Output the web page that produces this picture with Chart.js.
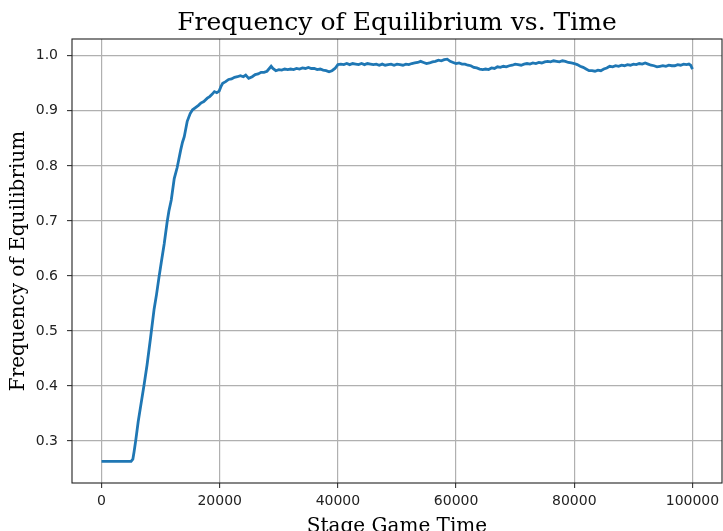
<!DOCTYPE html>
<html>
<head>
<meta charset="utf-8">
<script src="https://cdn.jsdelivr.net/npm/chart.js@4/dist/chart.umd.min.js"></script>
<style>
html,body{margin:0;padding:0;background:#fff;}
#wrap{width:723px;height:531px;}
</style>
</head>
<body>
<div id="wrap"><canvas id="c" width="723" height="531"></canvas></div>
<script>
const times = [0,1000,2000,3000,4000,5000,5300,5500,5800,6200,6600,7200,7700,8300,8900,9300,9700,10100,10600,11100,11400,11800,12300,12800,13400,13700,14000,14500,15000,15400,15900,16400,16800,17300,17900,18300,18700,19100,19500,19900,20200,20500,21000,21500,22000,22500,23000,23500,24000,24400,24900,25500,26000,26500,27000,27500,28000,28700,29000,29500,30000,30500,31000,31500,32000,32500,33000,33500,34000,34500,35000,35500,36000,36500,37000,37500,38000,38500,39000,39500,40000,40500,41000,41500,42000,42500,43000,43500,44000,44500,45000,45500,46000,46500,47000,47500,48000,48500,49000,49500,50000,50500,51000,51500,52000,52500,53000,53500,54000,54500,55000,55500,56000,56500,57000,57500,58000,58500,59000,59500,60000,60500,61000,61500,62000,62500,63000,63500,64000,64500,65000,65500,66000,66500,67000,67500,68000,68500,69000,69500,70000,70500,71000,71500,72000,72500,73000,73500,74000,74500,75000,75500,76000,76500,77000,77500,78000,78500,79000,79500,80000,80500,81000,81500,82000,82500,83000,83500,84000,84500,85000,85500,86000,86500,87000,87500,88000,88500,89000,89500,90000,90500,91000,91500,92000,92500,93000,93500,94000,94500,95000,95500,96000,96500,97000,97500,98000,98500,99000,99400,99700,100000];
const frequency = [0.263,0.263,0.263,0.263,0.263,0.263,0.267,0.280,0.302,0.335,0.362,0.402,0.438,0.488,0.540,0.566,0.596,0.624,0.658,0.698,0.718,0.738,0.777,0.797,0.829,0.843,0.853,0.881,0.895,0.902,0.906,0.910,0.914,0.917,0.923,0.926,0.930,0.935,0.933,0.936,0.944,0.950,0.953,0.957,0.958,0.961,0.962,0.964,0.962,0.965,0.959,0.962,0.966,0.967,0.970,0.970,0.972,0.981,0.977,0.973,0.975,0.974,0.976,0.975,0.976,0.975,0.977,0.976,0.978,0.977,0.979,0.977,0.977,0.975,0.976,0.974,0.973,0.971,0.973,0.977,0.984,0.985,0.984,0.986,0.984,0.986,0.985,0.984,0.986,0.984,0.986,0.985,0.984,0.985,0.983,0.985,0.983,0.984,0.985,0.983,0.985,0.984,0.983,0.985,0.984,0.986,0.987,0.988,0.990,0.988,0.986,0.987,0.989,0.990,0.992,0.991,0.993,0.994,0.990,0.988,0.986,0.987,0.985,0.985,0.983,0.982,0.979,0.978,0.976,0.975,0.976,0.975,0.978,0.977,0.980,0.979,0.981,0.980,0.982,0.983,0.985,0.984,0.983,0.985,0.986,0.985,0.987,0.986,0.988,0.987,0.989,0.990,0.989,0.991,0.990,0.989,0.991,0.990,0.988,0.987,0.986,0.984,0.981,0.979,0.976,0.973,0.973,0.972,0.974,0.973,0.976,0.978,0.981,0.980,0.982,0.981,0.983,0.982,0.984,0.983,0.985,0.984,0.986,0.985,0.987,0.985,0.983,0.982,0.980,0.981,0.982,0.981,0.983,0.982,0.982,0.984,0.983,0.985,0.984,0.985,0.983,0.976,0.980];
const xTicks = [0,20000,40000,60000,80000,100000];
const yTicks = [0.3,0.4,0.5,0.6,0.7,0.8,0.9,1.0];

const points = times.map((t,i)=>({x:t,y:frequency[i]}));

const framePlugin = {
  id:'frame',
  afterDatasetsDraw(chart){
    const a = chart.chartArea, ctx = chart.ctx;
    ctx.save();
    ctx.strokeStyle = '#222';
    ctx.lineWidth = 1.1;
    ctx.strokeRect(a.left, a.top, a.right-a.left, a.bottom-a.top);
    ctx.restore();
  }
};

new Chart(document.getElementById('c'), {
  type:'line',
  data:{datasets:[{data:points,borderColor:'#1f77b4',borderWidth:2.8,pointRadius:0,tension:0,fill:false}]},
  plugins:[framePlugin],
  options:{
    responsive:false,animation:false,
    layout:{padding:{left:0,right:1,top:0,bottom:0}},
    plugins:{
      legend:{display:false},tooltip:{enabled:false},
      title:{display:true,fullSize:false,text:'Frequency of Equilibrium vs. Time',color:'#000',
        font:{family:'DejaVu Serif',size:25,weight:'normal',lineHeight:1.2},padding:{top:8,bottom:1}}
    },
    scales:{
      x:{type:'linear',min:-5000,max:105000,
        afterBuildTicks(s){s.ticks = xTicks.map(v=>({value:v}));},
        afterFit(s){s.height=48;s.paddingLeft=0;s.paddingRight=0;},
        grid:{color:'#b0b0b0',lineWidth:1.2,tickLength:5,tickColor:'#333',tickWidth:1.1},
        border:{display:false},
        ticks:{color:'#222',padding:5,maxRotation:0,autoSkip:false,font:{family:'DejaVu Sans',size:14},callback:v=>String(v)},
        title:{display:true,text:'Stage Game Time',color:'#000',font:{family:'DejaVu Serif',size:20},padding:{top:0,bottom:-8}}
      },
      y:{type:'linear',min:0.2236,max:1.0306,
        afterBuildTicks(s){s.ticks = yTicks.map(v=>({value:v}));},
        afterFit(s){s.width=72;s.paddingTop=0;s.paddingBottom=0;},
        grid:{color:'#b0b0b0',lineWidth:1.2,tickLength:5,tickColor:'#333',tickWidth:1.1},
        border:{display:false},
        ticks:{color:'#222',padding:9,autoSkip:false,font:{family:'DejaVu Sans',size:14},callback:v=>v.toFixed(1)},
        title:{display:true,text:'Frequency of Equilibrium',color:'#000',font:{family:'DejaVu Serif',size:20},padding:{top:7,bottom:0}}
      }
    }
  }
});
</script>
</body>
</html>
